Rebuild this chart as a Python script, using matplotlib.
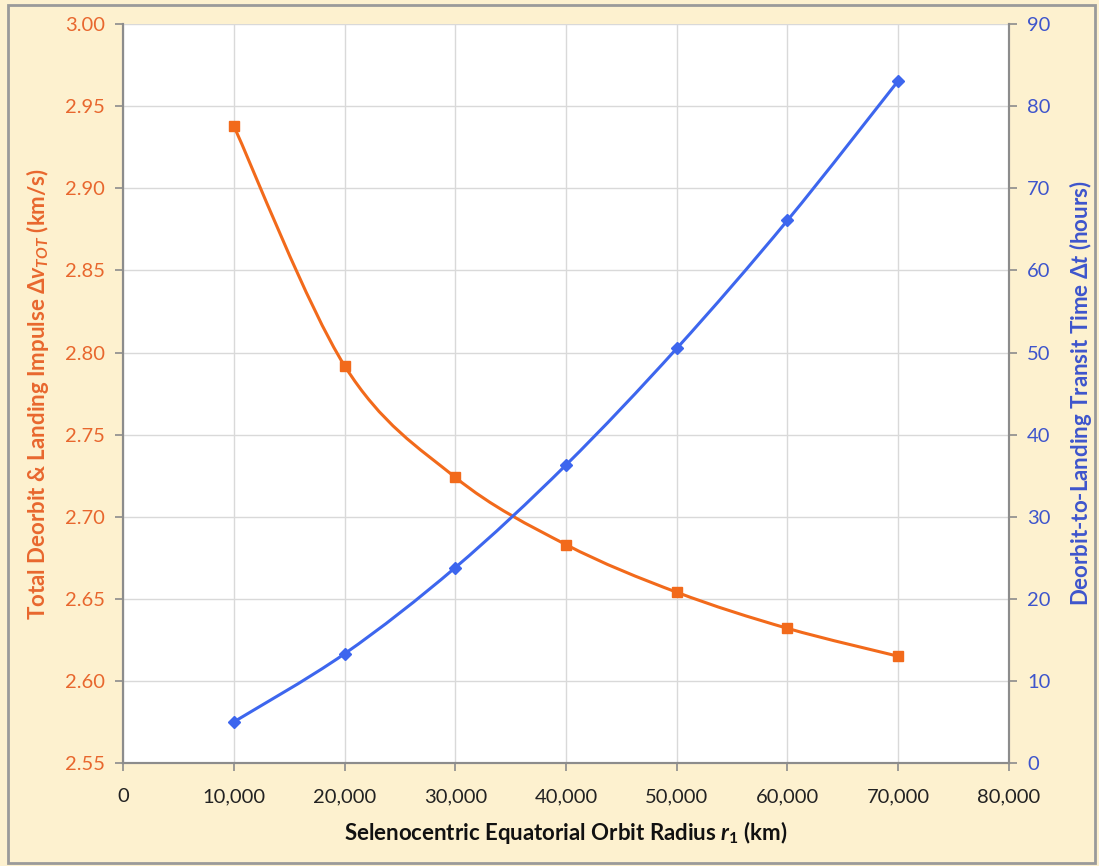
import matplotlib.pyplot as plt
import numpy as np
from matplotlib.path import Path
from matplotlib.patches import PathPatch, Rectangle

# Data
radius_km = [10000, 20000, 30000, 40000, 50000, 60000, 70000]
dv_tot = [2.938, 2.792, 2.724, 2.683, 2.654, 2.632, 2.615]
transit_hours = [5.0, 13.3, 23.8, 36.3, 50.5, 66.1, 83.1]

x_ticks = [0, 10000, 20000, 30000, 40000, 50000, 60000, 70000, 80000]
left_ticks = [2.55, 2.60, 2.65, 2.70, 2.75, 2.80, 2.85, 2.90, 2.95, 3.00]
right_ticks = [0, 10, 20, 30, 40, 50, 60, 70, 80, 90]

ORANGE = '#F26A1B'
ORANGE_TXT = '#E8672E'
BLUE = '#3D66EE'
BLUE_TXT = '#3E55CC'
SPINE = '#8C8C8C'
BG = '#FDF1CF'

plt.rcParams['font.family'] = ['Lato', 'DejaVu Sans']
plt.rcParams['mathtext.fontset'] = 'custom'
plt.rcParams['mathtext.rm'] = 'Lato:bold'
plt.rcParams['mathtext.it'] = 'Lato:bold:italic'
plt.rcParams['mathtext.bf'] = 'Lato:bold'


def smooth_path(xs, ys):
    # Excel-style smoothed line: Catmull-Rom segments as cubic Beziers
    pts = np.column_stack([xs, ys]).astype(float)
    ext = np.vstack([pts[0], pts, pts[-1]])
    verts = [tuple(pts[0])]
    codes = [Path.MOVETO]
    for i in range(1, len(ext) - 2):
        p0, p1, p2, p3 = ext[i - 1], ext[i], ext[i + 1], ext[i + 2]
        c1 = p1 + (p2 - p0) / 6.0
        c2 = p2 - (p3 - p1) / 6.0
        verts += [tuple(c1), tuple(c2), tuple(p2)]
        codes += [Path.CURVE4] * 3
    return Path(verts, codes)


fig = plt.figure(figsize=(10.99, 8.66), dpi=100)
fig.patch.set_facecolor(BG)
fig.patches.append(Rectangle((0.007, 0.004), 0.989, 0.99, transform=fig.transFigure,
                             facecolor='none', edgecolor='#9A9A9A', linewidth=2))

ax1 = fig.add_axes([0.112, 0.119, 0.806, 0.853])
ax1.set_facecolor('white')
ax2 = ax1.twinx()

# grid
ax1.set_axisbelow(True)
ax1.grid(True, color='#D9D9D9', linewidth=1.0)

# orange series (left axis)
ax1.add_patch(PathPatch(smooth_path(radius_km, dv_tot), facecolor='none',
                        edgecolor=ORANGE, linewidth=2.2, zorder=3))
ax1.plot(radius_km, dv_tot, linestyle='none', marker='s', markersize=7.5,
         color=ORANGE, zorder=4)

# blue series (right axis)
ax2.add_patch(PathPatch(smooth_path(radius_km, transit_hours), facecolor='none',
                        edgecolor=BLUE, linewidth=2.2, zorder=3))
ax2.plot(radius_km, transit_hours, linestyle='none', marker='D', markersize=6,
         color=BLUE, zorder=4)

ax1.set_xlim(0, 80000)
ax1.set_ylim(2.55, 3.00)
ax2.set_ylim(0, 90)
ax1.set_xticks(x_ticks)
ax1.set_xticklabels([f'{v:,}' for v in x_ticks])
ax1.set_yticks(left_ticks)
ax1.set_yticklabels([f'{v:.2f}' for v in left_ticks])
ax2.set_yticks(right_ticks)

for ax in (ax1, ax2):
    for s in ax.spines.values():
        s.set_color(SPINE)
        s.set_linewidth(1.5)
ax1.spines['top'].set_visible(False)
ax2.spines['top'].set_visible(False)

ax1.tick_params(axis='x', colors=SPINE, labelcolor='#222222', labelsize=14.5,
                length=6, width=1.2, pad=12)
ax1.tick_params(axis='y', colors=SPINE, labelcolor=ORANGE_TXT, labelsize=14.5,
                length=6, width=1.2, pad=7)
ax2.tick_params(axis='y', colors=SPINE, labelcolor=BLUE_TXT, labelsize=14.5,
                length=6, width=1.2, pad=7)

ax1.set_xlabel(r'Selenocentric Equatorial Orbit Radius $r_{\mathit{1}}$ (km)',
               fontsize=16, fontweight='bold', color='#111111', labelpad=10)
ax1.set_ylabel(r'Total Deorbit & Landing Impulse $\mathit{\Delta v}_{\mathit{TOT}}$ (km/s)',
               fontsize=16, fontweight='bold', color=ORANGE_TXT, labelpad=10)
ax2.set_ylabel(r'Deorbit-to-Landing Transit Time $\mathit{\Delta t}$ (hours)',
               fontsize=16, fontweight='bold', color=BLUE_TXT, labelpad=12)

plt.savefig('out.png', dpi=100, facecolor=fig.get_facecolor())
plt.close()
